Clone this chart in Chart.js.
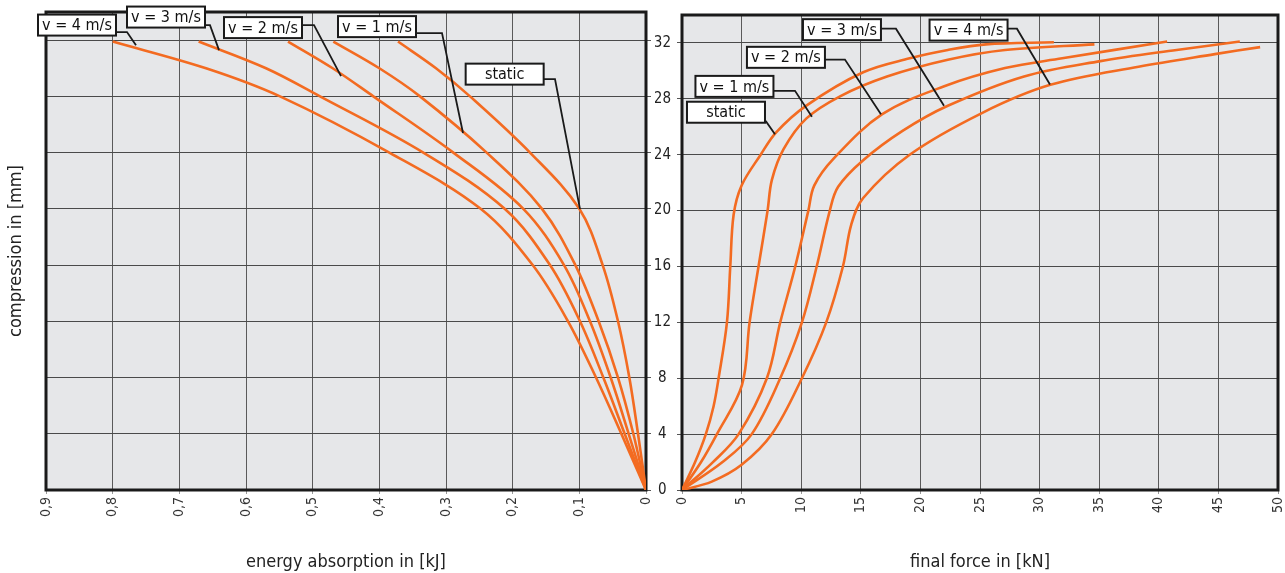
<!DOCTYPE html>
<html lang="en">
<head>
<meta charset="UTF-8">
<title>Compression vs energy absorption and final force</title>
<script src="https://cdn.jsdelivr.net/npm/chart.js"></script>
<style>
  body { margin: 0; background: #fff; }
  .janela { position: relative; width: 1285px; height: 573px; }
  #graficoEnergia { position: absolute; left: 0; top: 0; }
  #graficoForca { position: absolute; left: 655px; top: 0; }
</style>
</head>
<body>
<div class="janela">
  <canvas id="graficoEnergia" width="655" height="573"></canvas>
  <canvas id="graficoForca" width="630" height="573"></canvas>
</div>

<script>
  const seriesNames = ['static', 'v = 1 m/s', 'v = 2 m/s', 'v = 3 m/s', 'v = 4 m/s'];

  // left chart: energy absorption [kJ] at each compression [mm]
  const energyCompression = [0, 4, 8, 12, 16, 20, 24, 28, 30, 31.9];
  const energyStatic = [0, 0.012, 0.025, 0.042, 0.065, 0.100, 0.174, 0.264, 0.315, 0.372];
  const energyV1 = [0, 0.019, 0.042, 0.071, 0.106, 0.156, 0.239, 0.339, 0.400, 0.469];
  const energyV2 = [0, 0.026, 0.053, 0.084, 0.123, 0.184, 0.289, 0.409, 0.470, 0.537];
  const energyV3 = [0, 0.032, 0.064, 0.099, 0.144, 0.212, 0.334, 0.489, 0.570, 0.671];
  const energyV4 = [0, 0.037, 0.075, 0.117, 0.170, 0.248, 0.385, 0.549, 0.660, 0.800];
  const energyTickLabels = ['0', '0,1', '0,2', '0,3', '0,4', '0,5', '0,6', '0,7', '0,8', '0,9'];

  // right chart: final force [kN] and compression [mm]
  const forceStatic = [0, 1.1, 2.0, 2.65, 3.07, 3.77, 4.05, 4.33, 5.0, 6.6, 7.9, 10.4, 15.2, 19.1, 22.3, 25.5, 31.2];
  const compStatic = [0, 2, 4, 6, 8, 12, 16, 19.7, 21.8, 24, 25.6, 27.5, 29.9, 30.9, 31.5, 31.9, 32.05];
  const forceV1 = [0, 1.6, 2.93, 5.03, 5.67, 6.42, 7.18, 7.54, 8.52, 10.44, 13.3, 17.2, 22.3, 27.1, 34.6];
  const compV1 = [0, 2, 4, 7.5, 12, 16, 20, 22.2, 24.4, 26.6, 28.2, 29.6, 30.8, 31.5, 31.9];
  const forceV2 = [0, 2.6, 4.75, 7.12, 8.24, 9.5, 10.6, 11.1, 12.7, 16.8, 22.0, 27.1, 31.9, 40.7];
  const compV2 = [0, 2, 4, 8, 12, 16, 20, 21.8, 23.7, 26.9, 28.9, 30.2, 30.9, 32.1];
  const forceV3 = [0, 3.4, 5.85, 8.24, 10.06, 11.3, 12.4, 13.1, 15.2, 18.5, 22.3, 28.7, 35.1, 41.5, 46.8];
  const compV3 = [0, 2, 4, 8, 12, 16, 20, 21.7, 23.6, 25.7, 27.5, 29.6, 30.7, 31.5, 32.1];
  const forceV4 = [0, 2.5, 5.0, 7.54, 10.06, 12.1, 13.5, 14.2, 15.2, 19.1, 25.2, 30.9, 38.3, 44.7, 48.5];
  const compV4 = [0, 0.6, 1.8, 4, 8, 12, 16, 19, 20.9, 24, 27, 29, 30.3, 31.2, 31.7];

  // callout boxes (box centre, elbow of the leader, point on the curve), in data units
  const energyCallouts = [
    { text: seriesNames[4], box: [0.8535, 33.07], elbow: [0.7785, 32.57], tip: [0.765, 31.64] },
    { text: seriesNames[3], box: [0.720, 33.64], elbow: [0.654, 33.07], tip: [0.6405, 31.29] },
    { text: seriesNames[2], box: [0.5745, 32.89], elbow: [0.498, 33.07], tip: [0.4575, 29.44] },
    { text: seriesNames[1], box: [0.4035, 32.96], elbow: [0.306, 32.5], tip: [0.2745, 25.39] },
    { text: seriesNames[0], box: [0.212, 29.58], elbow: [0.1365, 29.23], tip: [0.099, 19.98] }
  ];
  const forceCallouts = [
    { text: seriesNames[3], box: [13.42, 32.95], elbow: [17.95, 33.02], tip: [21.98, 27.5] },
    { text: seriesNames[4], box: [24.04, 32.92], elbow: [28.1, 33.02], tip: [30.87, 29.03] },
    { text: seriesNames[2], box: [8.72, 30.97], elbow: [13.67, 30.81], tip: [16.69, 26.9] },
    { text: seriesNames[1], box: [4.4, 28.89], elbow: [9.48, 28.57], tip: [10.9, 26.72] },
    { text: seriesNames[0], box: [3.69, 27.04], elbow: [7.05, 26.38], tip: [7.8, 25.46] }
  ];

  Chart.defaults.font.family = "'Liberation Sans Narrow', 'DejaVu Sans Condensed', 'Arial Narrow', sans-serif";
  Chart.defaults.color = '#222';

  function serie(xs, ys) {
    return {
      data: xs.map((v, i) => ({ x: v, y: ys[i] })),
      showLine: true,
      borderColor: '#f36b21',
      borderWidth: 2.6,
      pointRadius: 0,
      tension: 0.35,
      fill: false
    };
  }

  const fundoPlugin = {
    id: 'fundo',
    beforeDraw(chart) {
      const { ctx, chartArea: a } = chart;
      ctx.save();
      ctx.fillStyle = '#e6e7e9';
      ctx.fillRect(a.left, a.top, a.right - a.left, a.bottom - a.top);
      ctx.restore();
    },
    beforeDatasetsDraw(chart) {
      const { ctx, chartArea: a } = chart;
      ctx.save();
      ctx.strokeStyle = '#1a1a1a';
      ctx.lineWidth = 3;
      ctx.strokeRect(a.left, a.top, a.right - a.left, a.bottom - a.top);
      ctx.restore();
    }
  };

  function rotulos(items) {
    return {
      id: 'rotulos',
      afterDatasetsDraw(chart) {
        const { ctx, scales: { x, y } } = chart;
        const w = 78, h = 21;
        ctx.save();
        items.forEach(item => {
          const bx = x.getPixelForValue(item.box[0]), by = y.getPixelForValue(item.box[1]);
          const ex = x.getPixelForValue(item.elbow[0]), ey = y.getPixelForValue(item.elbow[1]);
          const tx = x.getPixelForValue(item.tip[0]), ty = y.getPixelForValue(item.tip[1]);
          ctx.strokeStyle = '#1a1a1a';
          ctx.lineWidth = 1.8;
          ctx.beginPath();
          ctx.moveTo(bx + w / 2, ey);
          ctx.lineTo(ex, ey);
          ctx.lineTo(tx, ty);
          ctx.stroke();
          ctx.fillStyle = '#fff';
          ctx.fillRect(bx - w / 2, by - h / 2, w, h);
          ctx.lineWidth = 2;
          ctx.strokeRect(bx - w / 2, by - h / 2, w, h);
          ctx.fillStyle = '#111';
          ctx.font = "16px 'Liberation Sans Narrow', 'DejaVu Sans Condensed', sans-serif";
          ctx.textAlign = 'center';
          ctx.textBaseline = 'middle';
          ctx.fillText(item.text, bx, by + 1);
        });
        ctx.restore();
      }
    };
  }

  const eixoX = {
    ticks: { minRotation: 90, maxRotation: 90, autoSkip: false, padding: 3, font: { size: 14 }, color: '#333' },
    grid: { color: '#5a5a5a', tickLength: 4, tickColor: '#999' },
    border: { display: false }
  };

  // the rotated end labels would otherwise shrink the plot area sideways
  function fixaX(s) {
    s.height = 83;
    s.paddingLeft = 0;
    s.paddingRight = 0;
  }

  new Chart(document.getElementById('graficoEnergia'), {
    type: 'scatter',
    data: {
      datasets: [
        serie(energyStatic, energyCompression),
        serie(energyV1, energyCompression),
        serie(energyV2, energyCompression),
        serie(energyV3, energyCompression),
        serie(energyV4, energyCompression)
      ]
    },
    options: {
      responsive: false,
      animation: false,
      layout: { padding: { top: 12, left: 0, right: 0, bottom: 0 } },
      plugins: { legend: { display: false }, tooltip: { enabled: false } },
      scales: {
        x: {
          type: 'linear', reverse: true, min: 0, max: 0.9,
          ticks: { ...eixoX.ticks, stepSize: 0.1, callback: v => energyTickLabels[Math.round(v * 10)] },
          grid: eixoX.grid,
          border: eixoX.border,
          title: { display: true, text: 'energy absorption in [kJ]', font: { size: 18 }, padding: { top: 0, bottom: 0 } },
          afterFit: fixaX
        },
        y: {
          min: 0, max: 34, position: 'left',
          ticks: { display: false, stepSize: 4, includeBounds: false },
          grid: { color: '#4a4a4a', drawTicks: false },
          border: { display: false },
          title: { display: true, text: 'compression in [mm]', font: { size: 18 }, padding: { top: 6 } },
          afterFit: s => { s.width = 46; }
        },
        y2: {
          min: 0, max: 34, position: 'right',
          ticks: { display: false, stepSize: 4, includeBounds: false },
          grid: { drawOnChartArea: false, tickLength: 5, tickColor: '#555' },
          border: { display: false },
          afterFit: s => { s.width = 9; }
        }
      }
    },
    plugins: [fundoPlugin, rotulos(energyCallouts)]
  });

  new Chart(document.getElementById('graficoForca'), {
    type: 'scatter',
    data: {
      datasets: [
        serie(forceStatic, compStatic),
        serie(forceV1, compV1),
        serie(forceV2, compV2),
        serie(forceV3, compV3),
        serie(forceV4, compV4)
      ]
    },
    options: {
      responsive: false,
      animation: false,
      layout: { padding: { top: 12, left: 0, right: 7, bottom: 0 } },
      plugins: { legend: { display: false }, tooltip: { enabled: false } },
      scales: {
        x: {
          type: 'linear', min: 0, max: 50,
          ticks: { ...eixoX.ticks, stepSize: 5 },
          grid: eixoX.grid,
          border: eixoX.border,
          title: { display: true, text: 'final force in [kN]', font: { size: 18 }, padding: { top: 0, bottom: 0 } },
          afterFit: fixaX
        },
        y: {
          min: 0, max: 34, position: 'left',
          ticks: { stepSize: 4, includeBounds: false, crossAlign: 'center', padding: 6, font: { size: 15 }, color: '#222' },
          grid: { color: '#4a4a4a', tickLength: 5, tickColor: '#555' },
          border: { display: false },
          afterFit: s => { s.width = 27; }
        }
      }
    },
    plugins: [fundoPlugin, rotulos(forceCallouts)]
  });
</script>
</body>
</html>
